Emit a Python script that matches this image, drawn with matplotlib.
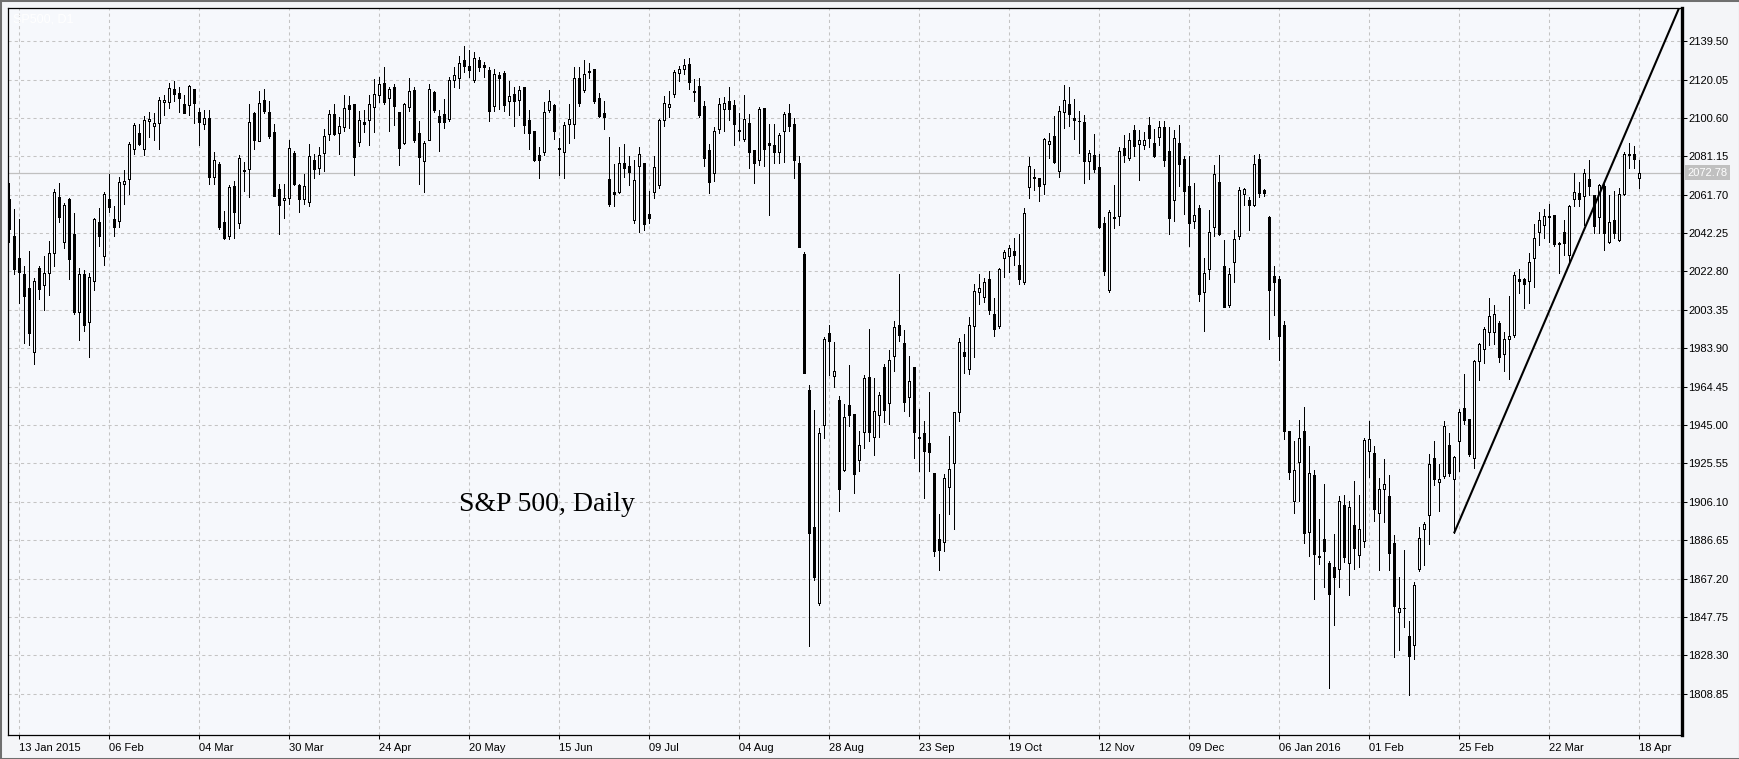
import numpy as np
import matplotlib.pyplot as plt
from matplotlib.patches import Rectangle

plt.rcParams['font.family'] = ['Liberation Sans', 'DejaVu Sans']

# daily candles, Jan 2015 .. Apr 2016
opens = [
    2059.6, 2040.9, 2029.8, 2021.3, 2014.5, 1981.8, 2024.7, 2015.9, 2021.8, 2032.4,
    2060.4, 2037.5, 2059.6, 2041.7, 2002.1, 2021.3, 1997.2, 2017.9, 2047.7, 2030.7,
    2059.6, 2049.4, 2048.5, 2067.0, 2069.4, 2085.0, 2093.2, 2084.7, 2099.0, 2096.4,
    2098.1, 2108.8, 2108.8, 2115.3, 2113.1, 2107.6, 2107.1, 2115.1, 2103.7, 2097.6,
    2100.7, 2070.6, 2077.4, 2047.7, 2040.9, 2066.0, 2047.2, 2074.4, 2074.8, 2102.9,
    2088.8, 2109.7, 2103.7, 2093.5, 2064.6, 2058.9, 2060.0, 2082.9, 2066.4, 2059.7,
    2058.0, 2079.4, 2075.4, 2082.8, 2092.6, 2102.7, 2093.1, 2095.9, 2107.3, 2107.8,
    2088.4, 2098.5, 2099.3, 2106.1, 2112.0, 2118.2, 2110.6, 2116.2, 2103.5, 2087.9,
    2106.1, 2114.8, 2093.1, 2078.7, 2089.5, 2113.7, 2101.5, 2102.7, 2100.2, 2119.9,
    2120.8, 2130.0, 2126.8, 2119.6, 2129.7, 2127.5, 2125.0, 2106.4, 2122.1, 2123.3,
    2109.3, 2112.8, 2109.8, 2116.5, 2099.7, 2093.8, 2081.6, 2083.3, 2104.4, 2106.9,
    2085.3, 2083.3, 2097.7, 2097.7, 2121.0, 2114.8, 2124.5, 2125.5, 2110.9, 2103.1,
    2069.5, 2063.1, 2063.3, 2077.9, 2076.3, 2049.1, 2076.3, 2077.9, 2052.0, 2063.3,
    2066.6, 2099.6, 2106.0, 2112.9, 2123.6, 2125.3, 2127.8, 2114.2, 2116.7, 2106.4,
    2084.1, 2072.8, 2094.8, 2105.1, 2109.4, 2107.0, 2094.6, 2089.9, 2098.1, 2084.5,
    2079.2, 2105.5, 2088.0, 2087.0, 2083.1, 2093.8, 2103.1, 2097.3, 2077.9, 2031.6,
    1962.5, 1893.5, 1854.6, 1945.0, 1991.7, 1969.7, 1957.7, 1922.2, 1955.1, 1950.6,
    1927.3, 1941.6, 1969.2, 1938.7, 1950.0, 1974.3, 1956.1, 1979.9, 1995.5, 1986.5,
    1959.0, 1974.3, 1939.0, 1940.9, 1935.8, 1920.9, 1887.3, 1885.6, 1913.8, 1925.6,
    1951.4, 1981.9, 1973.5, 1995.1, 2012.4, 2009.9, 2018.9, 2001.1, 1995.1, 2029.4,
    2030.7, 2033.3, 2026.3, 2017.5, 2065.8, 2070.6, 2070.1, 2067.2, 2087.5, 2091.2,
    2073.8, 2103.6, 2107.7, 2100.6, 2099.2, 2098.4, 2078.9, 2081.6, 2075.5, 2047.2,
    2013.3, 2050.6, 2051.1, 2085.6, 2080.2, 2094.3, 2087.3, 2086.8, 2097.0, 2088.1,
    2091.0, 2096.0, 2083.6, 2059.2, 2087.7, 2079.8, 2066.1, 2048.2, 2054.8, 2012.6,
    2023.8, 2045.4, 2068.0, 2025.7, 2006.0, 2027.6, 2040.7, 2062.0, 2059.2, 2056.7,
    2079.8, 2064.2, 2050.5, 2020.4, 2019.1, 1995.6, 1942.1, 1906.4, 1926.1, 1942.1,
    1890.8, 1919.5, 1878.2, 1887.0, 1875.0, 1873.1, 1872.0, 1904.5, 1875.0, 1894.5,
    1879.1, 1886.3, 1931.7, 1930.8, 1900.2, 1912.6, 1909.2, 1885.1, 1850.0, 1852.2,
    1837.9, 1833.4, 1872.0, 1892.4, 1899.2, 1928.1, 1916.3, 1919.0, 1934.9, 1917.4,
    1936.7, 1953.8, 1948.0, 1928.1, 1977.6, 1983.3, 1992.3, 1992.3, 1996.9, 1981.0,
    1988.5, 1990.7, 2019.2, 2019.0, 2018.0, 2029.4, 2043.0, 2046.2, 2050.9, 2051.4,
    2037.3, 2043.0, 2031.0, 2059.3, 2062.7, 2061.1, 2069.6, 2061.6, 2050.2, 2066.1,
    2037.8, 2049.1, 2038.9, 2062.1, 2082.5, 2082.5, 2070.2,
]
highs = [
    2067.7, 2054.5, 2049.4, 2025.6, 2033.2, 2019.6, 2025.6, 2030.7, 2038.3, 2064.7,
    2067.7, 2057.5, 2059.9, 2052.4, 2024.7, 2023.5, 2022.2, 2050.0, 2054.8, 2063.3,
    2072.3, 2056.2, 2070.6, 2074.0, 2088.4, 2097.8, 2097.3, 2101.7, 2103.7, 2102.9,
    2111.4, 2112.2, 2118.2, 2119.3, 2116.5, 2112.2, 2117.3, 2115.1, 2105.4, 2104.6,
    2104.6, 2083.3, 2078.2, 2053.3, 2066.4, 2068.4, 2081.6, 2078.2, 2107.5, 2103.7,
    2114.3, 2115.1, 2109.2, 2097.3, 2066.9, 2067.2, 2089.3, 2083.8, 2067.3, 2072.3,
    2087.5, 2082.1, 2085.8, 2095.1, 2104.7, 2107.8, 2101.0, 2112.0, 2111.5, 2107.8,
    2104.0, 2104.4, 2112.0, 2120.4, 2121.3, 2126.3, 2116.2, 2117.9, 2103.5, 2108.3,
    2120.8, 2116.2, 2099.0, 2088.7, 2117.9, 2114.2, 2104.4, 2110.3, 2121.3, 2126.3,
    2132.2, 2136.8, 2134.8, 2133.9, 2131.4, 2128.9, 2126.3, 2125.5, 2123.8, 2124.6,
    2119.2, 2116.2, 2117.0, 2116.5, 2104.4, 2093.8, 2085.8, 2108.6, 2114.5, 2107.4,
    2090.5, 2098.5, 2107.4, 2126.5, 2126.5, 2129.8, 2128.4, 2125.5, 2113.2, 2109.0,
    2090.9, 2077.3, 2086.0, 2087.6, 2081.2, 2079.2, 2086.0, 2077.9, 2063.6, 2081.5,
    2100.2, 2111.7, 2114.2, 2124.9, 2126.9, 2130.5, 2131.0, 2120.1, 2120.6, 2109.0,
    2087.6, 2096.1, 2110.9, 2111.3, 2116.2, 2109.7, 2103.1, 2112.3, 2102.5, 2084.5,
    2105.9, 2105.5, 2097.3, 2097.3, 2092.8, 2103.5, 2107.4, 2100.6, 2081.2, 2032.5,
    1965.4, 1952.8, 1943.6, 1989.7, 1995.6, 1986.8, 1959.6, 1955.7, 1975.5, 1950.6,
    1942.1, 1970.4, 1993.8, 1968.7, 1961.6, 1976.0, 1983.1, 1997.5, 2021.7, 1993.3,
    1980.2, 1974.3, 1953.1, 1947.2, 1961.9, 1920.9, 1899.7, 1920.0, 1939.2, 1951.4,
    1989.0, 1991.2, 1999.7, 2016.6, 2021.7, 2019.5, 2022.9, 2009.4, 2024.3, 2033.6,
    2036.2, 2039.6, 2041.6, 2055.1, 2080.6, 2074.8, 2070.4, 2090.4, 2092.9, 2101.4,
    2106.5, 2117.2, 2116.1, 2110.4, 2104.3, 2101.9, 2084.5, 2092.4, 2082.2, 2050.6,
    2054.0, 2066.7, 2086.1, 2092.1, 2093.0, 2097.2, 2094.3, 2093.4, 2101.0, 2095.0,
    2099.0, 2099.0, 2096.0, 2094.3, 2097.0, 2081.1, 2081.1, 2067.4, 2056.7, 2029.5,
    2053.9, 2076.8, 2081.7, 2038.9, 2024.8, 2043.6, 2065.5, 2065.2, 2060.5, 2081.7,
    2082.1, 2064.8, 2051.1, 2025.7, 2020.4, 1997.5, 1942.1, 1937.0, 1947.7, 1953.9,
    1934.6, 1922.4, 1897.5, 1915.2, 1876.3, 1890.0, 1909.2, 1909.6, 1906.4, 1916.7,
    1909.6, 1938.3, 1946.8, 1934.6, 1918.2, 1928.0, 1919.5, 1889.5, 1868.2, 1881.4,
    1845.9, 1865.2, 1893.5, 1895.8, 1930.3, 1936.7, 1925.4, 1946.9, 1940.8, 1929.4,
    1953.1, 1970.8, 1948.0, 1978.0, 1986.7, 1994.6, 2009.4, 2006.0, 1997.6, 1992.3,
    2010.5, 2022.5, 2024.1, 2019.6, 2032.1, 2046.9, 2053.0, 2054.3, 2057.1, 2051.4,
    2037.8, 2049.1, 2056.6, 2072.5, 2068.0, 2074.8, 2079.3, 2061.6, 2067.3, 2067.3,
    2061.6, 2063.4, 2065.0, 2083.2, 2087.7, 2086.6, 2079.3,
]
lows = [
    2037.5, 2021.3, 2006.9, 1986.5, 1985.7, 1976.0, 2008.6, 2003.5, 2011.1, 2025.6,
    2047.7, 2034.9, 2018.8, 2001.0, 1987.9, 1992.5, 1979.7, 2013.3, 2035.8, 2025.9,
    2052.8, 2040.9, 2045.1, 2057.0, 2062.1, 2082.5, 2087.1, 2082.0, 2091.0, 2089.6,
    2084.7, 2102.0, 2105.4, 2109.2, 2103.4, 2102.9, 2102.0, 2097.8, 2086.7, 2095.2,
    2067.2, 2067.2, 2044.3, 2039.2, 2039.2, 2040.0, 2044.6, 2063.8, 2060.4, 2085.0,
    2088.8, 2102.9, 2090.5, 2060.9, 2041.7, 2049.7, 2057.0, 2066.4, 2053.0, 2057.0,
    2056.0, 2070.3, 2072.0, 2073.7, 2089.5, 2091.7, 2082.1, 2093.9, 2095.4, 2071.5,
    2086.2, 2093.4, 2086.7, 2093.4, 2108.6, 2107.8, 2093.9, 2096.8, 2076.5, 2087.2,
    2103.9, 2088.4, 2066.9, 2063.0, 2089.2, 2103.5, 2083.8, 2095.6, 2099.0, 2116.2,
    2115.9, 2123.8, 2121.3, 2118.7, 2124.3, 2121.3, 2098.8, 2104.0, 2105.2, 2104.0,
    2101.9, 2096.3, 2101.9, 2092.9, 2085.0, 2078.7, 2070.3, 2081.6, 2103.5, 2090.0,
    2071.5, 2070.3, 2088.0, 2090.3, 2106.4, 2113.8, 2120.6, 2108.4, 2101.2, 2094.8,
    2055.9, 2055.9, 2062.3, 2070.5, 2066.6, 2047.1, 2042.8, 2043.6, 2047.1, 2059.8,
    2065.0, 2096.7, 2101.2, 2111.3, 2119.1, 2123.0, 2115.2, 2109.0, 2101.2, 2076.3,
    2062.7, 2068.5, 2092.8, 2094.2, 2099.6, 2087.0, 2089.5, 2088.9, 2075.3, 2067.5,
    2076.7, 2076.3, 2051.4, 2077.9, 2077.9, 2078.2, 2093.8, 2070.0, 2035.4, 1971.3,
    1833.2, 1866.2, 1853.6, 1938.2, 1970.3, 1964.2, 1901.2, 1921.7, 1944.6, 1910.4,
    1921.7, 1933.1, 1937.0, 1929.7, 1938.7, 1946.3, 1945.5, 1972.6, 1987.8, 1952.2,
    1949.7, 1928.5, 1921.7, 1908.2, 1921.7, 1878.5, 1871.7, 1881.1, 1899.7, 1892.1,
    1947.2, 1971.4, 1970.9, 1979.4, 2006.5, 2007.3, 2001.4, 1990.0, 1994.1, 2020.0,
    2022.3, 2026.3, 2016.6, 2016.6, 2059.9, 2064.1, 2058.5, 2061.9, 2080.2, 2078.0,
    2070.9, 2095.5, 2096.3, 2090.1, 2082.8, 2067.5, 2069.7, 2073.1, 2045.0, 2021.2,
    2012.4, 2045.0, 2046.3, 2078.5, 2079.3, 2081.1, 2068.9, 2084.9, 2086.0, 2080.6,
    2087.0, 2076.4, 2041.7, 2048.6, 2066.1, 2052.0, 2035.5, 2044.9, 2007.9, 1992.8,
    2019.1, 2040.7, 2041.1, 2004.7, 2005.0, 2017.3, 2039.2, 2056.7, 2043.6, 2055.8,
    2060.5, 2061.0, 1988.5, 2000.9, 1977.8, 1937.7, 1917.6, 1900.2, 1906.4, 1885.1,
    1878.8, 1856.6, 1874.4, 1863.1, 1811.5, 1843.4, 1863.1, 1875.4, 1858.8, 1872.0,
    1873.1, 1883.2, 1918.6, 1896.4, 1871.6, 1896.0, 1871.6, 1827.5, 1831.2, 1842.5,
    1808.0, 1826.5, 1870.9, 1874.2, 1884.9, 1914.4, 1901.5, 1918.1, 1919.0, 1890.1,
    1921.9, 1945.3, 1929.4, 1923.1, 1968.0, 1976.4, 1985.5, 1986.2, 1977.1, 1972.6,
    1968.5, 1989.4, 2012.1, 2004.4, 2006.6, 2015.0, 2036.2, 2040.0, 2037.8, 2035.5,
    2021.9, 2031.0, 2027.1, 2055.9, 2055.9, 2046.2, 2061.6, 2042.3, 2042.3, 2033.9,
    2037.1, 2040.0, 2038.4, 2061.6, 2075.2, 2075.2, 2065.0,
]
closes = [
    2044.3, 2023.9, 2022.7, 2010.3, 1991.6, 2017.9, 2013.7, 2022.2, 2032.0, 2063.0,
    2050.2, 2056.5, 2029.0, 2002.1, 2021.3, 1995.5, 2020.1, 2049.4, 2040.9, 2062.1,
    2055.3, 2045.5, 2068.1, 2068.4, 2087.6, 2096.9, 2087.6, 2099.5, 2099.8, 2098.1,
    2109.7, 2109.8, 2116.0, 2112.7, 2110.9, 2103.2, 2117.0, 2108.0, 2098.6, 2100.7,
    2070.6, 2079.1, 2045.1, 2040.0, 2065.5, 2052.8, 2080.3, 2073.5, 2098.6, 2089.3,
    2108.0, 2104.1, 2091.5, 2060.9, 2056.5, 2059.9, 2085.3, 2067.3, 2059.7, 2066.1,
    2081.3, 2074.9, 2081.9, 2091.4, 2102.6, 2092.6, 2096.5, 2105.7, 2104.9, 2080.8,
    2099.5, 2097.3, 2107.8, 2112.8, 2117.9, 2108.6, 2115.4, 2106.4, 2085.3, 2107.8,
    2114.2, 2089.2, 2080.8, 2088.0, 2115.4, 2104.7, 2098.5, 2098.5, 2119.9, 2122.4,
    2128.3, 2126.8, 2125.1, 2130.9, 2126.3, 2126.3, 2103.9, 2123.0, 2120.8, 2106.9,
    2111.6, 2109.1, 2114.8, 2096.8, 2092.9, 2079.1, 2079.1, 2103.5, 2109.4, 2093.9,
    2084.6, 2096.8, 2100.2, 2121.0, 2108.0, 2123.0, 2123.7, 2109.0, 2101.6, 2101.2,
    2056.8, 2062.1, 2077.9, 2075.3, 2073.0, 2069.1, 2082.5, 2046.7, 2050.0, 2075.9,
    2099.3, 2108.4, 2107.4, 2123.9, 2125.5, 2127.3, 2118.7, 2113.6, 2102.0, 2080.2,
    2068.1, 2093.8, 2107.8, 2108.4, 2105.1, 2097.7, 2093.8, 2100.0, 2083.1, 2077.9,
    2105.1, 2085.0, 2087.0, 2083.1, 2091.9, 2102.5, 2096.7, 2079.2, 2035.4, 1971.3,
    1890.5, 1868.2, 1941.1, 1988.8, 1987.8, 1972.2, 1912.5, 1948.9, 1950.0, 1920.0,
    1934.8, 1968.7, 1941.6, 1952.3, 1960.2, 1952.8, 1977.7, 1994.6, 1990.4, 1956.8,
    1967.5, 1941.6, 1938.3, 1931.9, 1931.1, 1881.1, 1881.9, 1918.3, 1922.9, 1951.4,
    1987.0, 1979.9, 1995.5, 2012.8, 2014.5, 2017.2, 2003.1, 1993.8, 2023.8, 2032.8,
    2034.5, 2031.1, 2018.9, 2052.6, 2076.0, 2070.1, 2066.3, 2089.9, 2088.7, 2078.5,
    2103.9, 2109.9, 2102.6, 2099.7, 2098.9, 2078.9, 2082.8, 2074.8, 2045.5, 2022.9,
    2053.1, 2049.7, 2083.6, 2081.6, 2089.2, 2086.2, 2089.2, 2089.2, 2090.5, 2081.1,
    2096.0, 2079.3, 2050.1, 2090.5, 2077.4, 2063.7, 2047.3, 2051.6, 2011.6, 2021.9,
    2043.0, 2072.3, 2041.7, 2004.7, 2021.6, 2039.3, 2064.2, 2064.6, 2056.7, 2077.4,
    2062.3, 2062.3, 2013.5, 2017.3, 1990.0, 1942.1, 1921.4, 1922.4, 1938.3, 1890.4,
    1920.5, 1879.5, 1878.2, 1881.0, 1859.4, 1867.9, 1906.4, 1878.2, 1903.6, 1882.9,
    1892.3, 1937.4, 1937.7, 1902.6, 1912.6, 1915.2, 1880.1, 1853.2, 1852.4, 1852.2,
    1828.1, 1864.0, 1887.9, 1894.7, 1925.4, 1917.4, 1917.4, 1944.6, 1920.8, 1928.8,
    1951.5, 1947.6, 1930.3, 1977.6, 1986.2, 1993.5, 2000.3, 2001.4, 1979.4, 1988.5,
    1990.1, 2021.2, 2018.1, 2016.2, 2027.5, 2040.0, 2049.1, 2050.9, 2050.3, 2036.6,
    2036.6, 2037.1, 2055.9, 2063.3, 2059.3, 2072.5, 2066.1, 2045.7, 2066.6, 2042.3,
    2048.0, 2042.3, 2062.1, 2082.5, 2082.0, 2079.8, 2072.78,
]

date_labels = ['13 Jan 2015', '06 Feb', '04 Mar', '30 Mar', '24 Apr', '20 May',
               '15 Jun', '09 Jul', '04 Aug', '28 Aug', '23 Sep', '19 Oct',
               '12 Nov', '09 Dec', '06 Jan 2016', '01 Feb', '25 Feb', '22 Mar',
               '18 Apr']
price_ticks = [2139.50, 2120.05, 2100.60, 2081.15, 2061.70, 2042.25, 2022.80,
               2003.35, 1983.90, 1964.45, 1945.00, 1925.55, 1906.10, 1886.65,
               1867.20, 1847.75, 1828.30, 1808.85]
last_price = 2072.78
# trend line anchors: (bar index, price)
trend_start = (289, 1890.1)
trend_end = (326, 2108.9)

W, H = 1740, 759
bg = '#F6F8FC'
grid_col = '#C4C4C4'

fig = plt.figure(figsize=(W / 100, H / 100), dpi=100, facecolor='#F4F5F8')
ax = fig.add_axes([8 / W, 1 - 735 / H, (1682 - 8) / W, (735 - 8) / H])
ax.set_facecolor(bg)

x = np.arange(len(closes))
o = np.array(opens)
c = np.array(closes)
hi = np.array(highs)
lo = np.array(lows)
up = c >= o
bottoms = np.minimum(o, c)
heights = np.maximum(np.abs(c - o), 0.3)

# wicks then bodies, crisp 1px lines like the terminal
ax.vlines(x, lo, hi, color='black', lw=0.72, zorder=3, antialiased=False)
ax.bar(x[up], heights[up], 0.45, bottom=bottoms[up], facecolor=bg,
       edgecolor='black', lw=0.72, zorder=4, antialiased=False)
ax.bar(x[~up], heights[~up], 0.45, bottom=bottoms[~up], facecolor='black',
       edgecolor='black', lw=0.72, zorder=4, antialiased=False)

# current price line
ax.axhline(last_price, color='#C0C0C0', lw=0.9, zorder=2)

# trend line, extended to the right edge
slope = (trend_end[1] - trend_start[1]) / (trend_end[0] - trend_start[0])
x_far = 345
ax.plot([trend_start[0], x_far],
        [trend_start[1], trend_start[1] + slope * (x_far - trend_start[0])],
        color='black', lw=1.5, zorder=5, solid_capstyle='butt')

ax.set_xlim(-0.2, 334.6)
ax.set_ylim(1787.9, 2156.3)

# axes and grid
tick_pos = np.arange(2, len(closes), 18)
ax.set_xticks(tick_pos)
ax.set_xticklabels(date_labels, ha='left')
ax.set_yticks(price_ticks)
ax.set_yticklabels([f'{p:.2f}' for p in price_ticks])
ax.yaxis.tick_right()
ax.tick_params(axis='y', length=3.5, width=0.75, pad=1, labelsize=8, colors='black')
ax.tick_params(axis='x', length=3, width=0.75, pad=3, labelsize=8, colors='black')
ax.grid(True, color=grid_col, lw=0.75, linestyle=(0, (3, 3)))
ax.set_axisbelow(True)

for side in ['left', 'top', 'bottom']:
    ax.spines[side].set_linewidth(0.9)
    ax.spines[side].set_color('black')
ax.spines['right'].set_linewidth(2.4)
ax.spines['right'].set_color('black')

# current price tag
ax.annotate(f'{last_price:.2f}', xy=(1, last_price), xycoords=('axes fraction', 'data'),
            xytext=(4, 0), textcoords='offset points', ha='left', va='center',
            fontsize=8, color='white', annotation_clip=False,
            bbox=dict(boxstyle='square,pad=0.22', fc='#C0C0C0', ec='none'))

# labels
fig.text(13 / W, 1 - 19.5 / H, 'SP500, D1', color='white', fontsize=9,
         ha='left', va='center')
fig.text(547 / W, 1 - 510.7 / H, 'S&P 500, Daily', family='Liberation Serif',
         fontsize=20, ha='center', va='baseline', color='black')

# outer frame
fig.patches.append(Rectangle((0, 0), 1, 1, transform=fig.transFigure, fill=False,
                             edgecolor='#6F6F6F', lw=2.2))

fig.savefig('out.png', dpi=100, facecolor=fig.get_facecolor())
